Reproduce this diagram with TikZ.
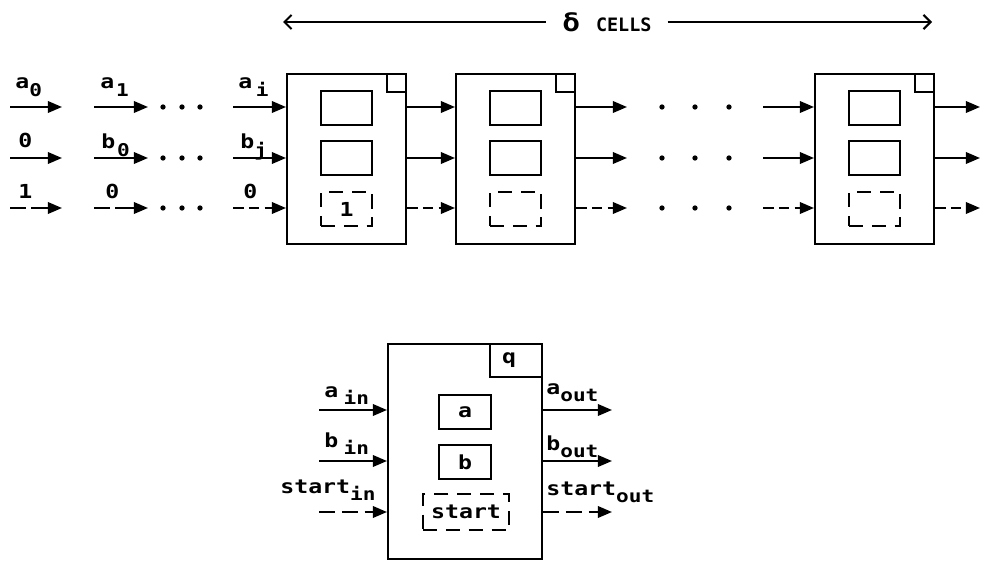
\documentclass[tikz,border=0pt]{standalone}
\usepackage{fontspec}
\setmainfont{DejaVu Sans Mono}[FakeStretch=1.2]
\newfontfamily\cellsfont{DejaVu Sans Mono}
\usetikzlibrary{arrows.meta}
\newcommand\lsub[1]{\raisebox{-5pt}{\fontsize{10}{10}\selectfont #1}}
\newcommand\bsub[1]{\raisebox{-4pt}{\fontsize{10}{10}\selectfont #1}}
\tikzset{
  ln/.style={line width=1.2pt},
  arr/.style={ln,-{Triangle[length=8pt,width=6.5pt]}},
  darr/.style={arr,dash pattern=on 6pt off 3pt},
  ldarr/.style={arr,dash pattern=on 9pt off 3pt on 30pt off 0pt},
  bdarr/.style={arr,dash pattern=on 9pt off 4pt},
  cellbox/.style={draw,line width=1.2pt,minimum width=2.38cm,minimum height=3.4cm,anchor=north west,inner sep=0pt},
  reg/.style={draw,line width=1.2pt,minimum width=1.02cm,minimum height=0.68cm,anchor=north west,inner sep=0pt},
  dreg/.style={reg,dash pattern=on 8pt off 5pt},
  corner/.style={draw,line width=1pt,minimum width=0.38cm,minimum height=0.36cm,anchor=north east,inner sep=0pt},
  lbl/.style={anchor=base west,inner sep=0pt,font=\fontsize{11}{13}\selectfont},
  dotn/.style={circle,fill,inner sep=0pt,minimum size=3pt},
}
\begin{document}
\bfseries
\begin{tikzpicture}[x=0.02cm,y=-0.02cm]
\useasboundingbox (0,0) rectangle (981,561);
% title
\coordinate (TL) at (283,22);
\coordinate (TR) at (932,22);
\node[inner xsep=9pt,inner ysep=0pt] (title) at (607,22) {{\fontsize{14}{14}\selectfont δ}\hspace{9pt}{\cellsfont\fontsize{10.5}{11}\selectfont CELLS}};
\draw[ln,{Straight Barb[length=4pt,width=8pt]}-] (TL) -- (title.west);
\draw[ln,-{Straight Barb[length=4pt,width=8pt]}] (title.east) -- (TR);
% cells
\foreach \n/\x in {1/286,2/455,3/814}{
  \node[cellbox] (c\n) at (\x,73) {};
  \node[corner] (k\n) at (c\n.north east) {};
  \node[reg] (ra\n) at (\x+34,90) {};
  \node[reg] (rb\n) at (\x+34,140) {};
}
\node[dreg,font=\fontsize{11}{13}\selectfont] (rs1) at (320,191) {1};
\node[dreg] (rs2) at (489,191) {};
\node[dreg] (rs3) at (848,191) {};
% left inputs
\foreach \r/\y in {a/107,b/158,s/208}{
  \coordinate (p\r0) at (10,\y);
  \coordinate (q\r0) at (62,\y);
  \coordinate (p\r1) at (94,\y);
  \coordinate (q\r1) at (148,\y);
  \coordinate (p\r2) at (233,\y);
  \node[dotn] (d\r1) at (163,\y) {};
  \node[dotn] (d\r2) at (182,\y) {};
  \node[dotn] (d\r3) at (200,\y) {};
  \coordinate (q\r2) at (627,\y);
  \node[dotn] (e\r1) at (662,\y) {};
  \node[dotn] (e\r2) at (695,\y) {};
  \node[dotn] (e\r3) at (729,\y) {};
  \coordinate (p\r3) at (763,\y);
  \coordinate (q\r3) at (980,\y);
}
\foreach \r in {a,b}{
  \draw[arr] (p\r0) -- (q\r0);
  \draw[arr] (p\r1) -- (q\r1);
  \draw[arr] (p\r2) -- (c1.west |- p\r2);
  \draw[arr] (c1.east |- p\r2) -- (c2.west |- p\r2);
  \draw[arr] (c2.east |- p\r2) -- (q\r2);
  \draw[arr] (p\r3) -- (c3.west |- p\r3);
  \draw[arr] (c3.east |- p\r3) -- (q\r3);
}
\draw[ldarr] (ps0) -- (qs0);
\draw[ldarr] (ps1) -- (qs1);
\draw[darr] (ps2) -- (c1.west |- ps2);
\draw[darr] (c1.east |- ps2) -- (c2.west |- ps2);
\draw[darr] (c2.east |- ps2) -- (qs2);
\draw[darr] (ps3) -- (c3.west |- ps3);
\draw[darr] (c3.east |- ps3) -- (qs3);
% left labels
\node[lbl] (la0) at (15,88) {a\hspace{0pt}\lsub{0}};
\node[lbl] (lb0) at (18,147) {0};
\node[lbl] (ls0) at (18,198) {1};
\node[lbl] (la1) at (100,88) {a\hspace{1pt}\lsub{1}};
\node[lbl] (lb1) at (101,148) {b\hspace{1pt}\lsub{0}};
\node[lbl] (ls1) at (105,198) {0};
\node[lbl] (la2) at (238,88) {a\hspace{2pt}\lsub{i}};
\node[lbl] (lb2) at (240,148) {b\lsub{j}};
\node[lbl] (ls2) at (243,198) {0};
% bottom cell
\node[draw,line width=1.2pt,minimum width=3.08cm,minimum height=4.3cm,anchor=north west,inner sep=0pt] (q) at (387,343) {};
\node[draw,line width=1pt,minimum width=1.04cm,minimum height=0.66cm,anchor=north east,inner sep=0pt,font=\fontsize{11}{13}\selectfont] (qk) at (q.north east) {\hspace{-8pt}q};
\node[draw,line width=1.2pt,minimum width=1.04cm,minimum height=0.68cm,anchor=north west,inner sep=0pt,font=\fontsize{11}{13}\selectfont] (qa) at (438,394) {a};
\node[draw,line width=1.2pt,minimum width=1.04cm,minimum height=0.68cm,anchor=north west,inner sep=0pt,font=\fontsize{11}{13}\selectfont] (qb) at (438,444) {b};
\node[draw,line width=1.2pt,dash pattern=on 8pt off 5pt,minimum width=1.72cm,minimum height=0.72cm,anchor=north west,inner sep=0pt,font=\fontsize{11}{13}\selectfont] (qs) at (422,493) {start};
\coordinate (ain) at (319,410);
\coordinate (bin) at (319,461);
\coordinate (sin) at (319,512);
\coordinate (aout) at (612,410);
\coordinate (bout) at (612,461);
\coordinate (sout) at (612,512);
\draw[arr] (ain) -- (q.west |- ain);
\draw[arr] (bin) -- (q.west |- bin);
\draw[bdarr] (sin) -- (q.west |- sin);
\draw[arr] (q.east |- aout) -- (aout);
\draw[arr] (q.east |- bout) -- (bout);
\draw[bdarr] (q.east |- sout) -- (sout);
\node[lbl] (lai) at (324,397) {a\hspace{3pt}\bsub{in}};
\node[lbl] (lbi) at (324,447) {b\hspace{3pt}\bsub{in}};
\node[lbl] (lsi) at (280,493) {start\bsub{in}};
\node[lbl] (lao) at (546,394) {a\bsub{out}};
\node[lbl] (lbo) at (546,450) {b\bsub{out}};
\node[lbl] (lso) at (546,495) {start\bsub{out}};
\end{tikzpicture}
\end{document}
